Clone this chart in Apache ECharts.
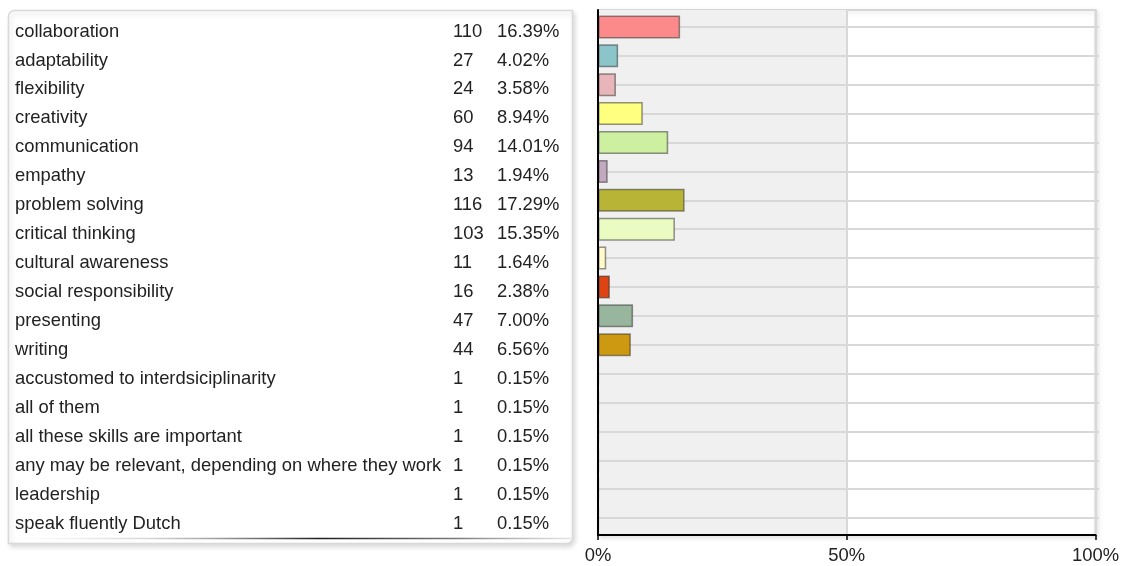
<!DOCTYPE html>
<html>
<head>
<meta charset="utf-8">
<title>Skills</title>
<script src="https://cdn.jsdelivr.net/npm/echarts@6/dist/echarts.min.js"></script>
<style>
  html, body { margin: 0; padding: 0; background: #fff; }
  #chart { width: 1122px; height: 566px; }
</style>
</head>
<body>
<div id="chart"></div>
<script>
// Answers and how often each one was given
const categories = [
  'collaboration', 'adaptability', 'flexibility', 'creativity', 'communication',
  'empathy', 'problem solving', 'critical thinking', 'cultural awareness',
  'social responsibility', 'presenting', 'writing',
  'accustomed to interdsiciplinarity', 'all of them', 'all these skills are important',
  'any may be relevant, depending on where they work', 'leadership', 'speak fluently Dutch'
];
const counts = [110, 27, 24, 60, 94, 13, 116, 103, 11, 16, 47, 44, 1, 1, 1, 1, 1, 1];
const percents = [16.39, 4.02, 3.58, 8.94, 14.01, 1.94, 17.29, 15.35, 1.64, 2.38, 7.00, 6.56,
  0.15, 0.15, 0.15, 0.15, 0.15, 0.15];
const barColors = [
  '#fd8a8a', '#8cc5c9', '#e8b5ba', '#ffff80', '#cdefa0', '#c2a9c0', '#b8b435', '#eafcc2',
  '#fffac8', '#dd4411', '#98b59e', '#cc9911', '#a6a6d8', '#d8a6a6', '#a6d8c0', '#d8c8a6',
  '#b0c8e0', '#e0b0d0'
];
const axisTicks = [0, 50, 100];

const FONT = '"Liberation Sans", Arial, sans-serif';
const TEXT = '#222';
const FS = 18.4;

const chart = echarts.init(document.getElementById('chart'));

chart.setOption({
  animation: false,
  textStyle: { fontFamily: FONT },
  graphic: [
    {
      type: 'rect',
      z: -10,
      shape: { x: 8.5, y: 10.5, width: 564, height: 533, r: [6, 0, 6, 0] },
      style: {
        fill: '#fff', stroke: '#d9d9d9', lineWidth: 1.5,
        shadowColor: 'rgba(0,0,0,0.14)', shadowBlur: 5, shadowOffsetX: 2, shadowOffsetY: 3
      }
    },
    {
      type: 'line',
      z: -9,
      shape: { x1: 10, y1: 538.5, x2: 571, y2: 538.5 },
      style: {
        lineWidth: 1.6,
        stroke: {
          type: 'linear', x: 10, y: 0, x2: 571, y2: 0, global: true,
          colorStops: [
            { offset: 0, color: 'rgba(200,200,200,0)' },
            { offset: 0.25, color: 'rgba(170,170,170,0.5)' },
            { offset: 0.55, color: 'rgba(30,30,30,1)' },
            { offset: 0.8, color: 'rgba(110,110,110,0.9)' },
            { offset: 1, color: 'rgba(210,210,210,0.6)' }
          ]
        }
      }
    }
  ],
  grid: [
    // frame of the bar plot
    {
      left: 598, right: 23, top: 10, bottom: 31,
      show: true, backgroundColor: '#fff', borderColor: '#d6d6d6', borderWidth: 2,
      shadowColor: 'rgba(0,0,0,0.10)', shadowBlur: 4, shadowOffsetX: 2, shadowOffsetY: 2
    },
    // bars
    { left: 598, right: 23, top: 12.5, bottom: 33.5 },
    // table of answers
    { left: 15, right: 560, top: 17, bottom: 27.6 }
  ],
  xAxis: [
    {
      gridIndex: 0, type: 'value', min: 0, max: 100, interval: 50, z: 6,
      axisLine: { show: true, lineStyle: { color: '#000', width: 2 } },
      axisTick: { show: true, length: 5, lineStyle: { color: '#000', width: 1.5 } },
      axisLabel: {
        margin: 12, fontSize: FS, color: TEXT, fontFamily: FONT,
        formatter: v => axisTicks.includes(v) ? v + '%' : ''
      },
      splitLine: { show: true, lineStyle: { color: '#d8d8d8', width: 2 } }
    },
    { gridIndex: 1, type: 'value', min: 0, max: 100, show: false },
    { gridIndex: 2, type: 'value', min: 0, max: 1, show: false }
  ],
  yAxis: [
    {
      gridIndex: 0, type: 'value', min: 0, max: 1, z: 6,
      axisLine: { show: true, lineStyle: { color: '#000', width: 2 } },
      axisTick: { show: false }, axisLabel: { show: false }, splitLine: { show: false }
    },
    {
      gridIndex: 1, type: 'category', inverse: true, data: categories,
      axisLine: { show: false }, axisTick: { show: false }, axisLabel: { show: false },
      splitLine: { show: false }
    },
    {
      gridIndex: 2, type: 'category', inverse: true, data: categories,
      axisLine: { show: false }, axisTick: { show: false }, splitLine: { show: false },
      axisLabel: {
        inside: true, margin: 0, interval: 0, fontSize: FS, color: TEXT, fontFamily: FONT,
        formatter: (v, i) => `{a|${v}}{b|${counts[i]}}{c|${percents[i].toFixed(2)}%}`,
        rich: {
          a: { width: 438, fontSize: FS, color: TEXT, fontFamily: FONT },
          b: { width: 44, fontSize: FS, color: TEXT, fontFamily: FONT },
          c: { fontSize: FS, color: TEXT, fontFamily: FONT }
        }
      }
    }
  ],
  series: [
    {
      // shaded left half of the plot
      type: 'line', xAxisIndex: 0, yAxisIndex: 0, data: [], silent: true,
      markArea: {
        silent: true,
        itemStyle: { color: '#f0f0f0' },
        data: [[{ xAxis: 0 }, { xAxis: 50 }]]
      }
    },
    {
      type: 'bar', xAxisIndex: 1, yAxisIndex: 1, z: 3,
      barWidth: 23,
      data: percents.map((p, i) => ({
        value: p,
        itemStyle: { color: barColors[i] }
      })),
      itemStyle: { borderColor: 'rgba(40,40,40,0.5)', borderWidth: 1.5 },
      markLine: {
        silent: true, z: 1, symbol: 'none',
        label: { show: false },
        lineStyle: { color: '#d8d8d8', width: 2, type: 'solid' },
        data: categories.map(c => ({ yAxis: c }))
      }
    }
  ]
});
</script>
</body>
</html>
